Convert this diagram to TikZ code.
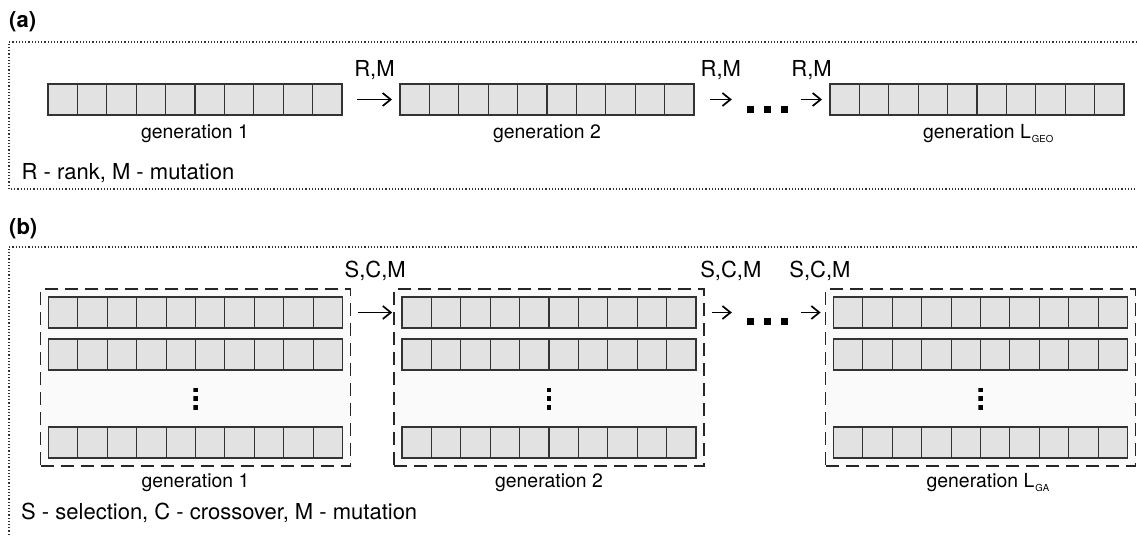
\documentclass[tikz,border=0pt]{standalone}
\usepackage{fontspec}
\setmainfont{TeX Gyre Heros}
\usepackage{tikz}
\usetikzlibrary{arrows.meta, positioning, calc, fit, backgrounds}
\definecolor{CellGray}{HTML}{E2E2E2}
\definecolor{PopGray}{HTML}{FAFAFA}
\definecolor{EdgeGray}{HTML}{333333}

\newcommand{\lblfont}{\fontsize{22}{26}\selectfont}
\newcommand{\genfont}{\fontsize{19.4}{23}\selectfont}
\newcommand{\subfont}{\fontsize{9.6}{10}\selectfont}

\begin{document}
\begin{tikzpicture}[x=1pt, y=1pt,
    >={Straight Barb[length=8pt, width=13pt, line width=1.7pt]},
    chromo/.style={draw=EdgeGray, line width=1.1pt, fill=CellGray, minimum width=294pt, minimum height=31pt,
        inner sep=0pt, outer sep=0pt,
        path picture={\foreach \k in {1,...,9}
            \draw[EdgeGray, line width=1.1pt] ([xshift=\k*29.4pt]path picture bounding box.south west)
                -- ([xshift=\k*29.4pt]path picture bounding box.north west);}},
    popbox/.style={draw=black!85, line width=1.7pt, dash pattern=on 13pt off 7pt, fill=PopGray, inner sep=8pt},
    hdots/.style={minimum width=41pt, minimum height=7pt, inner sep=0pt,
        path picture={\foreach \k in {0,1,2}
            \fill ([xshift=\k*17pt]path picture bounding box.south west) rectangle ++(7pt,7pt);}},
    vdots/.style={minimum width=4.5pt, minimum height=22pt, inner sep=0pt,
        path picture={\foreach \k in {0,1,2}
            \fill ([yshift=-\k*8.75pt]path picture bounding box.north west) rectangle ++(4.5pt,-4.5pt);}},
    arr/.style={->, line width=1.3pt},
    frame/.style={draw=black!80, line width=1.3pt, dash pattern=on 1.2pt off 2pt},
    lbl/.style={font=\lblfont, inner sep=0pt},
    genlbl/.style={font=\genfont, inner sep=0pt, anchor=base},
    panel/.style={font=\lblfont\bfseries, inner sep=0pt, anchor=base west}]

    \useasboundingbox (0,0) rectangle (1137,-537);

    % (a) one chromosome per generation
    \node[panel] (pa) at (9,-28) {(a)};
    \draw[frame] (1140,-42) -| (9,-189) -- (1140,-189);

    \node[chromo] (a1) at (195,-99.5) {};
    \node[chromo] (a2) at (547,-99.5) {};
    \node[chromo] (aL) at (977,-99.5) {};
    \node[hdots] (d1) at (767.5,-109.5) {};

    \node[genlbl] (ga1) at ([yshift=-24pt]a1.south) {generation 1};
    \node[genlbl] (ga2) at ([yshift=-24pt]a2.south) {generation 2};
    \node[genlbl] (gaL) at ([yshift=-24pt]aL.south) {generation L\rlap{\kern1pt\raisebox{-4pt}{\subfont GEO}}};

    \draw[arr] ([xshift=15pt]a1.east) -- node[lbl, anchor=base, yshift=22.5pt] {R,M} ([xshift=-8pt]a2.west);
    \draw[arr] ([xshift=16pt]a2.east) -- node[lbl, anchor=base, yshift=22.5pt] {R,M} ([xshift=-15pt]d1.west |- a2.east);
    \draw[arr] ([xshift=13pt]d1.east |- aL.west) -- node[lbl, anchor=base, yshift=22.5pt] {R,M} ([xshift=-8pt]aL.west);

    \node[lbl, anchor=base west] (keyA) at (21.5,-180) {R - rank, M - mutation};

    % (b) a population of chromosomes per generation
    \node[panel] (pb) at (9,-235) {(b)};
    \draw[frame] (1140,-247) -| (9,-540);

    \foreach \g/\cx in {1/195.5, 2/549, L/980.5} {
        \node[chromo] (b\g-1) at (\cx,-312.5) {};
        \node[chromo, below=11pt of b\g-1] (b\g-2) {};
        \node[chromo, below=57pt of b\g-2] (b\g-4) {};
        \node[vdots] (v\g) at ($(b\g-2)!0.5!(b\g-4)$) {};
        \begin{scope}[on background layer]
            \node[popbox, fit=(b\g-1)(b\g-4)] (pop\g) {};
        \end{scope}
    }
    \node[hdots] (d2) at (767.5,-321.5) {};

    \node[genlbl] (gb1) at ([yshift=-21pt]pop1.south) {generation 1};
    \node[genlbl] (gb2) at ([yshift=-21pt]pop2.south) {generation 2};
    \node[genlbl] (gbL) at ([yshift=-21pt]popL.south) {generation L\rlap{\kern1pt\raisebox{-4pt}{\subfont GA}}};

    \draw[arr] ([xshift=7pt]pop1.east |- b1-1.east) -- node[lbl, anchor=base, yshift=35.5pt] {S,C,M} ([xshift=-1pt]pop2.west |- b1-1.east);
    \draw[arr] ([xshift=7pt]pop2.east |- b2-1.east) -- node[lbl, anchor=base, yshift=35.5pt, xshift=9pt] {S,C,M} ([xshift=-15pt]d2.west |- b2-1.east);
    \draw[arr] ([xshift=13pt]d2.east |- bL-1.west) -- node[lbl, anchor=base, yshift=35.5pt, xshift=9pt] {S,C,M} ([xshift=-4pt]popL.west |- bL-1.west);

    \node[lbl, anchor=base west] (keyB) at (21,-519.5) {S - selection, C - crossover, M - mutation};
\end{tikzpicture}
\end{document}
